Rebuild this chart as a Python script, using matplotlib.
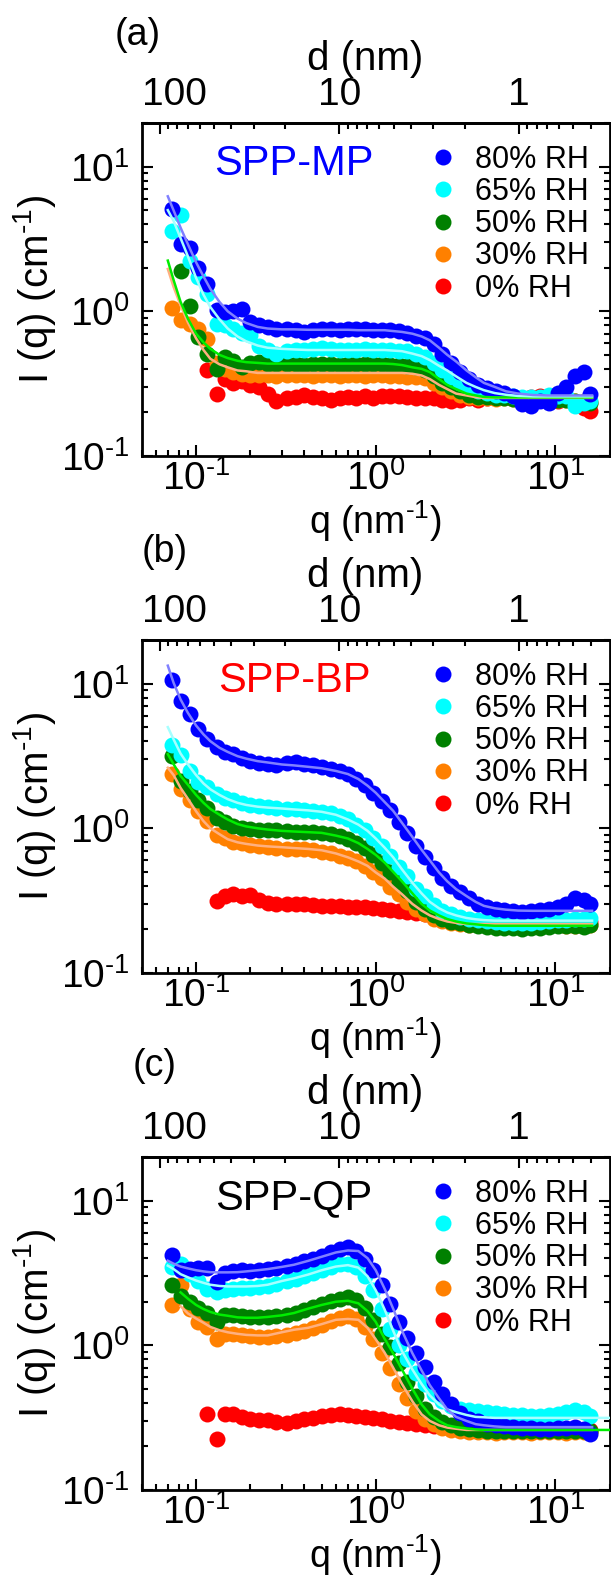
import numpy as np
import matplotlib
matplotlib.use('Agg')
import matplotlib.pyplot as plt
from matplotlib.ticker import FixedLocator, LogLocator, FuncFormatter, NullFormatter
from matplotlib.transforms import ScaledTranslation

plt.rcParams['font.family'] = ['Liberation Sans', 'DejaVu Sans']
plt.rcParams['mathtext.fontset'] = 'custom'
plt.rcParams['mathtext.rm'] = 'Liberation Sans'
plt.rcParams['mathtext.it'] = 'Liberation Sans:italic'
plt.rcParams['mathtext.bf'] = 'Liberation Sans:bold'

nan = np.nan
HY = '\u2010'  # short hyphen for the exponents, as in the original

# scattering vector of the measured points (nm^-1)
q_data = [0.073, 0.082, 0.092, 0.103, 0.115, 0.13, 0.145, 0.16, 0.18, 0.20,
          0.225, 0.25, 0.28, 0.32, 0.36, 0.40, 0.45, 0.50, 0.56, 0.63,
          0.70, 0.78, 0.87, 0.97, 1.08, 1.2, 1.34, 1.5, 1.68, 1.88,
          2.1, 2.35, 2.63, 2.95, 3.3, 3.7, 4.15, 4.65, 5.2, 5.8,
          6.5, 7.3, 8.2, 9.2, 10.3, 11.5, 12.9, 14.4, 15.5]

# q of the fitted curves
q_fit = [0.0696, 0.075, 0.082, 0.09, 0.1, 0.11, 0.12, 0.135, 0.15, 0.17,
         0.19, 0.22, 0.25, 0.3, 0.35, 0.42, 0.5, 0.6, 0.7, 0.8,
         0.9, 1.0, 1.12, 1.25, 1.4, 1.6, 1.8, 2.0, 2.25, 2.5,
         2.8, 3.2, 3.6, 4.0, 4.6, 5.3, 6.2, 7.5, 9.0, 11.0,
         13.0, 16.0, 20.0]

rh_labels = ['80% RH', '65% RH', '50% RH', '30% RH', '0% RH']

# ---- (a) SPP-MP ----
mp_80 = [5.1, 2.9, 2.75, 2.0, 1.55, 1.02, 0.99, 1.0, 1.03, 0.84,
         0.80, 0.78, 0.76, 0.75, 0.74, 0.72, 0.74, 0.76, 0.75, 0.74,
         0.75, 0.75, 0.75, 0.74, 0.74, 0.74, 0.73, 0.71, 0.68, 0.65,
         0.59, 0.51, 0.44, 0.38, 0.34, 0.31, 0.296, 0.28, 0.273, 0.259,
         0.228, 0.222, 0.24, 0.233, 0.273, 0.30, 0.355, 0.38, 0.27]
mp_65 = [3.59, 4.6, 2.24, 1.72, 1.32, 0.82, 0.80, 0.75, 0.71, 0.69,
         0.58, 0.54, 0.51, 0.53, 0.54, 0.54, 0.55, 0.56, 0.55, 0.54,
         0.54, 0.54, 0.55, 0.54, 0.54, 0.54, 0.535, 0.53, 0.51, 0.48,
         0.44, 0.39, 0.35, 0.32, 0.30, 0.28, 0.273, 0.266, 0.262, 0.259,
         0.254, 0.256, 0.254, 0.266, 0.259, 0.259, 0.222, 0.233, 0.24]
mp_50 = [nan, 1.91, 1.08, 0.667, 0.51, 0.40, 0.48, 0.45, 0.41, 0.44,
         0.445, 0.43, 0.43, 0.435, 0.43, 0.425, 0.43, 0.435, 0.43, 0.425,
         0.43, 0.43, 0.435, 0.43, 0.43, 0.425, 0.425, 0.42, 0.41, 0.39,
         0.355, 0.32, 0.30, 0.28, 0.266, 0.256, 0.254, 0.25, 0.25, 0.248,
         0.25, 0.248, 0.25, 0.246, 0.245, 0.245, 0.24, 0.238, 0.233]
mp_30 = [1.06, 0.87, 0.82, 0.76, 0.64, 0.44, 0.40, 0.38, 0.37, 0.36,
         0.365, 0.36, 0.355, 0.36, 0.365, 0.36, 0.355, 0.36, 0.36, 0.355,
         0.36, 0.36, 0.355, 0.36, 0.36, 0.355, 0.355, 0.35, 0.35, 0.346,
         0.32, 0.30, 0.28, 0.266, 0.256, 0.25, 0.25, 0.248, 0.25, 0.248,
         0.246, 0.248, 0.245, 0.245, 0.243, 0.245, 0.24, 0.24, 0.238]
mp_0 = [nan, nan, nan, nan, 0.39, 0.27, 0.34, 0.32, 0.33, 0.31,
        0.30, 0.27, 0.24, 0.25, 0.255, 0.266, 0.255, 0.25, 0.245, 0.25,
        0.255, 0.252, 0.258, 0.252, 0.258, 0.26, 0.258, 0.255, 0.252, 0.25,
        0.25, 0.245, 0.24, 0.245, 0.25, 0.245, 0.25, 0.255, 0.258, 0.255,
        0.252, 0.255, 0.258, 0.25, 0.24, 0.25, 0.233, 0.215, 0.205]
mp_fit_80 = [6.23, 4.97, 3.78, 2.91, 2.18, 1.74, 1.43, 1.16, 1.0, 0.89,
             0.83, 0.78, 0.76, 0.75, 0.75, 0.745, 0.745, 0.745, 0.745, 0.74,
             0.74, 0.74, 0.74, 0.73, 0.72, 0.70, 0.67, 0.63, 0.56, 0.50,
             0.45, 0.39, 0.35, 0.32, 0.30, 0.28, 0.27, 0.264, 0.262, 0.262,
             0.262, 0.262, nan]
mp_fit_65 = [5.0, 4.2, 3.2, 2.4, 1.7, 1.3, 1.07, 0.88, 0.76, 0.67,
             0.62, 0.58, 0.56, 0.55, 0.545, 0.54, 0.54, 0.54, 0.54, 0.54,
             0.54, 0.54, 0.54, 0.535, 0.53, 0.51, 0.49, 0.46, 0.42, 0.39,
             0.355, 0.32, 0.30, 0.285, 0.272, 0.265, 0.26, 0.258, 0.258, 0.258,
             0.258, 0.258, nan]
mp_fit_50 = [2.24, 1.64, 1.16, 0.89, 0.70, 0.61, 0.55, 0.50, 0.475, 0.455,
             0.445, 0.44, 0.435, 0.435, 0.435, 0.435, 0.435, 0.435, 0.435, 0.435,
             0.435, 0.435, 0.435, 0.432, 0.425, 0.41, 0.40, 0.38, 0.34, 0.31,
             0.29, 0.27, 0.262, 0.256, 0.254, 0.254, 0.254, 0.254, 0.254, 0.254,
             0.254, 0.254, nan]
mp_fit_30 = [1.96, 1.47, 1.1, 0.84, 0.65, 0.54, 0.47, 0.43, 0.41, 0.39,
             0.385, 0.375, 0.375, 0.375, 0.375, 0.375, 0.375, 0.375, 0.375, 0.375,
             0.375, 0.375, 0.375, 0.375, 0.375, 0.37, 0.36, 0.34, 0.31, 0.29,
             0.27, 0.262, 0.255, 0.252, 0.252, 0.252, 0.252, 0.252, 0.252, 0.252,
             0.252, 0.252, nan]

# ---- (b) SPP-BP ----
bp_80 = [10.6, 7.55, 6.2, 4.82, 4.11, 3.67, 3.37, 3.26, 3.07, 2.91,
         2.81, 2.76, 2.72, 2.81, 2.85, 2.76, 2.72, 2.66, 2.58, 2.49,
         2.37, 2.19, 1.98, 1.76, 1.54, 1.34, 1.11, 0.93, 0.75, 0.63,
         0.53, 0.45, 0.40, 0.36, 0.33, 0.30, 0.284, 0.276, 0.273, 0.27,
         0.266, 0.27, 0.273, 0.278, 0.284, 0.30, 0.33, 0.32, 0.30]
bp_65 = [3.74, 3.2, 2.48, 2.1, 1.92, 1.72, 1.62, 1.56, 1.5, 1.45,
         1.43, 1.4, 1.38, 1.36, 1.35, 1.33, 1.32, 1.3, 1.27, 1.22,
         1.15, 1.06, 0.97, 0.86, 0.755, 0.644, 0.54, 0.47, 0.38, 0.34,
         0.295, 0.27, 0.255, 0.245, 0.238, 0.232, 0.228, 0.226, 0.223, 0.223,
         0.22, 0.223, 0.226, 0.23, 0.232, 0.233, 0.236, 0.238, 0.24]
bp_50 = [3.15, 2.12, 1.8, 1.58, 1.39, 1.17, 1.1, 1.04, 1.0, 0.99,
         0.98, 0.97, 0.97, 0.96, 0.95, 0.95, 0.94, 0.93, 0.91, 0.88,
         0.84, 0.79, 0.73, 0.655, 0.58, 0.495, 0.425, 0.37, 0.31, 0.276,
         0.25, 0.236, 0.226, 0.22, 0.214, 0.21, 0.208, 0.205, 0.205, 0.203,
         0.2, 0.203, 0.205, 0.208, 0.21, 0.212, 0.21, 0.208, 0.216]
bp_30 = [2.37, 1.88, 1.58, 1.31, 1.13, 0.9, 0.85, 0.81, 0.79, 0.77,
         0.75, 0.74, 0.73, 0.72, 0.72, 0.715, 0.705, 0.69, 0.675, 0.645,
         0.62, 0.59, 0.55, 0.495, 0.45, 0.395, 0.35, 0.31, 0.276, 0.255,
         0.237, 0.228, 0.222, 0.218, 0.215, 0.213, 0.213, 0.212, 0.213, 0.212,
         0.21, 0.212, 0.213, 0.215, 0.213, 0.212, 0.21, 0.212, 0.215]
bp_0 = [nan, nan, nan, nan, nan, 0.315, 0.34, 0.35, 0.34, 0.345,
        0.32, 0.305, 0.30, 0.30, 0.298, 0.30, 0.295, 0.29, 0.292, 0.29,
        0.288, 0.286, 0.284, 0.283, 0.276, 0.274, 0.27, 0.266, 0.26, 0.256,
        0.25, 0.243, 0.236, 0.233, 0.23, 0.23, 0.226, 0.225, 0.224, 0.222,
        0.222, 0.224, 0.222, 0.224, 0.226, 0.224, 0.222, 0.225, 0.224]
bp_fit_80 = [13.3, 10.1, 7.76, 6.28, 5.13, 4.45, 4.0, 3.6, 3.37, 3.15,
             3.03, 2.91, 2.85, 2.76, 2.72, 2.66, 2.6, 2.49, 2.37, 2.19,
             1.97, 1.76, 1.52, 1.32, 1.09, 0.87, 0.71, 0.60, 0.495, 0.43,
             0.38, 0.34, 0.31, 0.291, 0.28, 0.274, 0.27, 0.269, 0.269, 0.269,
             0.269, 0.269, nan]
bp_fit_65 = [5.0, 4.11, 3.28, 2.77, 2.33, 2.04, 1.86, 1.7, 1.59, 1.5,
             1.45, 1.41, 1.39, 1.37, 1.35, 1.33, 1.3, 1.24, 1.15, 1.06,
             0.96, 0.85, 0.735, 0.63, 0.52, 0.42, 0.355, 0.31, 0.28, 0.262,
             0.25, 0.24, 0.235, 0.232, 0.23, 0.23, 0.23, 0.23, 0.23, 0.23,
             0.23, 0.23, nan]
bp_fit_50 = [3.25, 2.77, 2.3, 2.0, 1.7, 1.5, 1.36, 1.24, 1.15, 1.07,
             1.03, 1.0, 0.98, 0.96, 0.95, 0.94, 0.93, 0.89, 0.85, 0.79,
             0.72, 0.655, 0.58, 0.50, 0.43, 0.355, 0.30, 0.27, 0.25, 0.236,
             0.227, 0.22, 0.217, 0.214, 0.212, 0.212, 0.212, 0.212, 0.212, 0.212,
             0.212, 0.212, nan]
bp_fit_30 = [2.62, 2.33, 1.9, 1.6, 1.31, 1.12, 1.0, 0.91, 0.84, 0.8,
             0.78, 0.76, 0.75, 0.74, 0.73, 0.72, 0.705, 0.67, 0.63, 0.59,
             0.55, 0.495, 0.45, 0.395, 0.35, 0.30, 0.27, 0.25, 0.236, 0.227,
             0.222, 0.218, 0.218, 0.218, 0.218, 0.218, 0.218, 0.218, 0.218, 0.218,
             0.218, 0.218, nan]

# ---- (c) SPP-QP ----
qp_80 = [4.2, 3.3, 3.36, 3.4, 3.43, 2.73, 3.18, 3.25, 3.3, 3.25,
         3.3, 3.36, 3.43, 3.52, 3.66, 3.8, 3.94, 4.15, 4.38, 4.62,
         4.75, 4.5, 3.94, 3.3, 2.6, 1.94, 1.45, 1.12, 0.88, 0.71,
         0.56, 0.46, 0.39, 0.34, 0.31, 0.30, 0.285, 0.28, 0.275, 0.272,
         0.27, 0.267, 0.263, 0.263, 0.267, 0.27, 0.272, 0.263, 0.243]
qp_65 = [3.47, 3.66, 3.1, 2.78, 2.46, 2.34, 2.4, 2.43, 2.48, 2.48,
         2.52, 2.58, 2.65, 2.78, 2.87, 3.0, 3.15, 3.33, 3.5, 3.63,
         3.66, 3.5, 3.0, 2.4, 1.79, 1.3, 1.0, 0.81, 0.64, 0.54,
         0.46, 0.41, 0.38, 0.365, 0.355, 0.35, 0.345, 0.34, 0.333, 0.33,
         0.33, 0.325, 0.325, 0.33, 0.333, 0.345, 0.355, 0.345, 0.325]
qp_50 = [2.59, 2.2, 2.0, 1.8, 1.68, 1.45, 1.61, 1.61, 1.6, 1.58,
         1.58, 1.58, 1.59, 1.61, 1.67, 1.75, 1.83, 1.93, 2.02, 2.1,
         2.15, 2.05, 1.8, 1.5, 1.2, 0.97, 0.76, 0.56, 0.445, 0.36,
         0.32, 0.295, 0.28, 0.27, 0.263, 0.26, 0.257, 0.257, 0.256, 0.257,
         0.255, 0.257, 0.256, 0.255, 0.257, 0.256, 0.255, 0.257, 0.255]
qp_30 = [1.89, 2.59, 1.79, 1.45, 1.33, 1.1, 1.2, 1.2, 1.17, 1.15,
         1.14, 1.14, 1.15, 1.18, 1.22, 1.25, 1.32, 1.39, 1.46, 1.54,
         1.59, 1.53, 1.33, 1.1, 0.89, 0.70, 0.54, 0.434, 0.35, 0.31,
         0.285, 0.27, 0.26, 0.255, 0.25, 0.252, 0.25, 0.248, 0.25, 0.252,
         0.25, 0.248, 0.25, 0.252, 0.25, 0.248, 0.25, 0.252, 0.25]
qp_0 = [nan, nan, nan, nan, 0.333, 0.224, 0.335, 0.333, 0.32, 0.308,
        0.305, 0.305, 0.295, 0.292, 0.30, 0.308, 0.315, 0.325, 0.33, 0.333,
        0.33, 0.325, 0.32, 0.315, 0.308, 0.30, 0.295, 0.29, 0.285, 0.28,
        0.275, 0.272, 0.27, 0.268, 0.265, 0.26, 0.26, 0.26, 0.26, 0.26,
        0.26, 0.26, 0.26, 0.26, 0.26, 0.26, 0.26, 0.26, 0.26]
qp_fit_80 = [3.84, 3.66, 3.5, 3.4, 3.3, 3.24, 3.2, 3.19, 3.19, 3.2,
             3.24, 3.3, 3.36, 3.48, 3.6, 3.83, 4.09, 4.38, 4.52, 4.48,
             4.0, 3.3, 2.46, 1.79, 1.26, 0.88, 0.67, 0.53, 0.43, 0.36,
             0.32, 0.30, 0.285, 0.28, 0.275, 0.272, 0.272, 0.272, 0.272, 0.272,
             0.272, 0.272, nan]
qp_fit_65 = [3.55, 3.36, 3.1, 2.95, 2.8, 2.7, 2.62, 2.57, 2.55, 2.55,
             2.55, 2.57, 2.62, 2.78, 2.9, 3.08, 3.3, 3.5, 3.58, 3.44,
             3.0, 2.4, 1.77, 1.26, 0.91, 0.68, 0.54, 0.45, 0.39, 0.36,
             0.345, 0.33, 0.32, 0.318, 0.315, 0.315, 0.315, 0.315, 0.315, 0.315,
             0.315, 0.315, 0.315]
qp_fit_50 = [nan, nan, 2.32, 2.1, 1.9, 1.78, 1.7, 1.63, 1.6, 1.56,
             1.55, 1.55, 1.57, 1.61, 1.67, 1.79, 1.9, 2.0, 2.03, 1.95,
             1.72, 1.45, 1.11, 0.88, 0.68, 0.5, 0.39, 0.333, 0.3, 0.28,
             0.272, 0.266, 0.262, 0.26, 0.26, 0.26, 0.26, 0.26, 0.26, 0.26,
             0.26, 0.26, 0.26]
qp_fit_30 = [nan, nan, 1.86, 1.66, 1.53, 1.43, 1.34, 1.27, 1.23, 1.2,
             1.18, 1.17, 1.17, 1.23, 1.28, 1.32, 1.4, 1.5, 1.52, 1.5,
             1.32, 1.1, 0.89, 0.7, 0.54, 0.41, 0.333, 0.30, 0.28, 0.27,
             0.265, 0.26, 0.26, 0.26, 0.26, 0.26, 0.26, 0.26, 0.26, 0.26,
             0.26, 0.26, nan]

marker_colors = ['#0000ff', '#00ffff', '#008000', '#ff8000', '#ff0000']
fit_colors = ['#8080ff', '#a6ffff', '#00ee00', '#ffb080']

panels = [
    ('(a)', 'SPP-MP', '#0000ff', [mp_80, mp_65, mp_50, mp_30, mp_0],
     [mp_fit_80, mp_fit_65, mp_fit_50, mp_fit_30]),
    ('(b)', 'SPP-BP', '#ff0000', [bp_80, bp_65, bp_50, bp_30, bp_0],
     [bp_fit_80, bp_fit_65, bp_fit_50, bp_fit_30]),
    ('(c)', 'SPP-QP', 'black', [qp_80, qp_65, qp_50, qp_30, qp_0],
     [qp_fit_80, qp_fit_65, qp_fit_50, qp_fit_30]),
]

W, H = 611, 1575
fig = plt.figure(figsize=(W / 100, H / 100), dpi=100)

# axes boxes in pixels: top, bottom of each panel
boxes = [(123, 456), (640, 973), (1157, 1490)]
tag_pos = [(115, 35), (142, 552), (133, 1066)]
left_px, right_px = 142, 609.5

TICK_FS = 28
LABEL_FS = 29


def q_to_d(q):
    q = np.asarray(q, dtype=float)
    with np.errstate(divide='ignore'):
        return 2 * np.pi / q


def pow_fmt(v, pos):
    e = int(round(np.log10(v)))
    return '$\\mathregular{10^{%s}}$' % str(e).replace('-', HY)


secs = []
for (tag, name, name_col, series, fits), (top, bot), (tx, ty) in zip(panels, boxes, tag_pos):
    ax = fig.add_axes([left_px / W, (H - bot) / H, (right_px - left_px) / W, (bot - top) / H])
    handles = []
    # draw 0% first so that 80% ends up on top
    for i in range(4, -1, -1):
        h, = ax.plot(q_data, series[i], 'o', ms=11.5, mec='none',
                     color=marker_colors[i], label=rh_labels[i], zorder=2 + (4 - i) * 0.1)
        handles.append(h)
    handles = handles[::-1]
    for i in range(3, -1, -1):
        ax.plot(q_fit, fits[i], '-', lw=1.8, color=fit_colors[i], zorder=3)

    ax.set_xscale('log')
    ax.set_yscale('log')
    ax.set_xlim(0.05, 20)
    ax.set_ylim(0.1, 20)
    ax.xaxis.set_minor_locator(LogLocator(base=10, subs=np.arange(2, 10), numticks=20))
    ax.yaxis.set_minor_locator(LogLocator(base=10, subs=np.arange(2, 10), numticks=20))
    ax.xaxis.set_major_formatter(FuncFormatter(pow_fmt))
    ax.yaxis.set_major_formatter(FuncFormatter(pow_fmt))
    ax.xaxis.set_minor_formatter(NullFormatter())
    ax.yaxis.set_minor_formatter(NullFormatter())
    ax.tick_params(which='both', direction='in', top=False, right=True, width=1.5,
                   labelsize=TICK_FS)
    ax.tick_params(which='major', length=8)
    ax.tick_params(which='minor', length=4.5)
    ax.tick_params(axis='x', pad=3)
    ax.tick_params(axis='y', pad=9)
    for sp in ax.spines.values():
        sp.set_linewidth(2)

    ax.set_xlabel('q (nm$^{\\mathregular{%s1}}$)' % HY, fontsize=27, labelpad=0.2)
    ax.set_ylabel('I (q) (cm$^{\\mathregular{%s1}}$)' % HY, fontsize=LABEL_FS, labelpad=2)

    sec = ax.secondary_xaxis('top', functions=(q_to_d, q_to_d))
    sec.xaxis.set_major_locator(FixedLocator([100, 10, 1]))
    sec.xaxis.set_minor_locator(LogLocator(base=10, subs=np.arange(2, 10), numticks=20))
    sec.xaxis.set_major_formatter(FuncFormatter(lambda v, p: f'{v:g}'))
    sec.xaxis.set_minor_formatter(NullFormatter())
    sec.tick_params(which='both', direction='in', width=1.5, labelsize=TICK_FS, pad=7)
    sec.tick_params(which='major', length=8)
    sec.tick_params(which='minor', length=4.5)
    sec.spines['top'].set_linewidth(2)
    sec.set_xlabel('d (nm)', fontsize=LABEL_FS, labelpad=5)
    sec.xaxis.label.set_x(0.478)
    secs.append(sec)

    ax.text(0.325, 0.844, name, transform=ax.transAxes, ha='center', va='baseline',
            fontsize=30, color=name_col)
    ax.legend(handles=handles, loc='upper left', bbox_to_anchor=(0.611, 0.934),
              frameon=False, fontsize=22, handlelength=1.0, handletextpad=0.54,
              labelspacing=0.07, borderpad=0, borderaxespad=0)

    fig.text(tx / W, 1 - ty / H, tag, fontsize=27, ha='left', va='center')

# Origin pushes the "100" label right so it starts at the axis edge
fig.canvas.draw()
for sec in secs:
    for tick in sec.xaxis.get_major_ticks():
        if abs(tick.get_loc() - 100) < 1e-6:
            for lab in (tick.label1, tick.label2):
                lab.set_transform(lab.get_transform() +
                                  ScaledTranslation(0.15, 0, fig.dpi_scale_trans))

fig.savefig('out.png', dpi=100)
